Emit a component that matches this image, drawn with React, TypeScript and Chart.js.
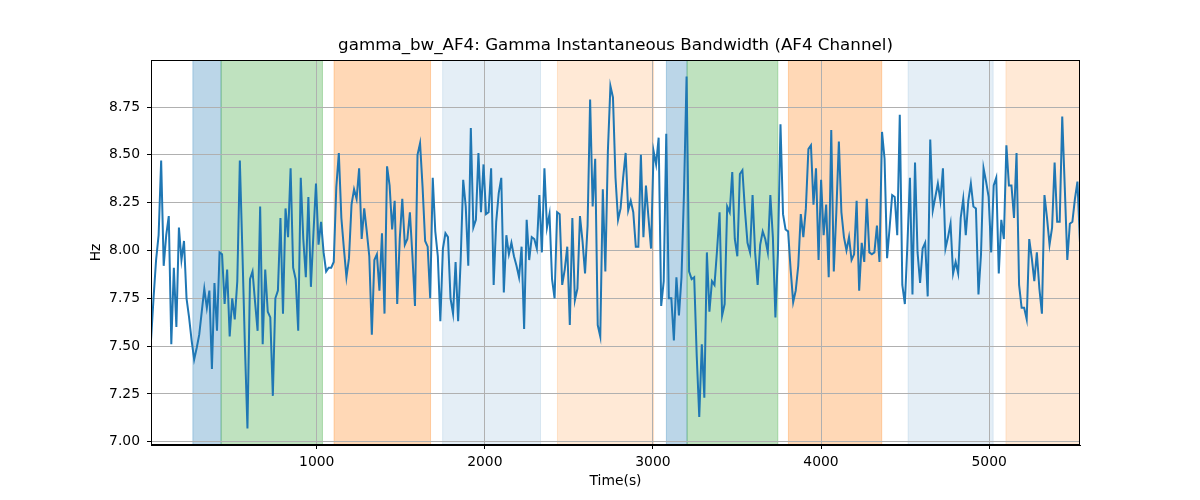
import { useEffect, useRef } from "react";
import Chart from "chart.js/auto";

// time axis (seconds)
const T_START = 14;
const T_STEP = 15.1;

// gamma bandwidth samples (Hz), read left to right
const bandwidthA = [
  7.53, 7.75, 7.95, 8.08, 8.47, 7.92, 8.08, 8.18, 7.51, 7.91,
  7.6, 8.12, 7.95, 8.05, 7.75, 7.65, 7.53, 7.43, 7.49, 7.56,
  7.68, 7.8, 7.7, 7.79, 7.38, 7.83, 7.58, 7.99, 7.98, 7.72,
  7.9, 7.55, 7.75, 7.64, 7.84, 8.47, 8.0, 7.5, 7.07, 7.85,
  7.89, 7.73, 7.58, 8.23, 7.51, 7.9, 7.68, 7.65, 7.24, 7.75,
  7.79, 8.17, 7.67, 8.22, 8.07, 8.43, 7.91, 7.85, 7.58, 8.38,
  8.06, 7.86, 8.28, 7.81, 8.09, 8.35, 8.03, 8.15, 7.99, 7.89,
  7.91, 7.91, 7.94, 8.33, 8.51, 8.17, 8.01, 7.86, 7.96, 8.24,
  8.32, 8.27, 8.43, 8.06, 8.22, 8.1, 7.97, 7.56, 7.95, 7.98,
  7.79,
];
const bandwidthB = [
  8.09, 7.67, 8.44, 8.34, 8.11, 8.26, 7.72, 8.06, 8.27, 8.03,
  8.06, 8.2, 7.97, 7.71, 8.5, 8.56, 8.33, 8.05, 8.02, 7.75,
  8.38, 8.1, 7.97, 7.63, 8.01, 8.09, 8.07, 7.75, 7.67, 7.94,
  7.63, 7.95, 8.37, 8.23, 7.92, 8.64, 8.12, 8.16, 8.51, 8.2,
  8.45, 8.19, 8.2, 8.43, 7.82, 8.15, 8.3, 8.38, 7.78, 8.08,
  7.98, 8.04, 7.97, 7.92, 7.86, 8.02, 7.59, 8.16, 7.95, 8.07,
  8.06, 8.01, 8.29, 7.99, 8.43, 8.12, 8.19, 7.85, 7.75, 8.2,
  8.19, 7.82, 7.9, 8.02, 7.61, 8.17, 7.74, 7.8, 8.18, 8.05,
  7.88, 8.13, 8.79, 8.23, 8.48, 7.61, 7.55,
];
const bandwidthC = [
  8.32, 7.89, 8.52, 8.86, 8.8, 8.38, 8.16, 8.22, 8.38, 8.51,
  8.21, 8.26, 8.2, 8.02, 8.02, 8.5, 8.07, 8.34, 8.17, 8.01,
  8.52, 8.45, 8.59, 7.71, 7.84, 8.61, 7.75, 7.75, 7.53, 7.86,
  7.66, 7.86, 8.31, 8.91, 7.89, 7.85, 7.86, 7.45, 7.13, 7.51,
  7.23, 7.99, 7.68, 7.84, 7.82, 8.0, 8.2, 7.66, 7.72, 8.23,
  8.2, 8.41, 8.06, 7.97, 8.4, 8.42, 8.21, 8.04, 7.99, 8.29,
  7.99, 7.82, 8.03, 8.1, 8.06, 7.99, 8.29, 8.07, 7.65, 7.99,
  8.66, 8.19, 8.11, 8.1, 7.9, 7.73, 7.79, 7.92, 8.19, 8.07,
  8.22, 8.53, 8.55, 8.24, 8.43, 7.95, 8.37, 8.08, 8.24, 7.86,
  8.63, 7.89, 8.2, 8.57,
];
const bandwidthD = [
  8.2, 8.07, 8.0, 8.07, 7.95, 7.98, 8.26, 7.79, 8.04, 7.94,
  8.27, 7.99, 7.98, 7.99, 8.13, 7.94, 8.62, 8.48, 7.96, 8.12,
  8.29, 8.28, 8.08, 8.71, 7.82, 7.72, 8.03, 8.38, 7.77, 8.46,
  7.99, 7.83, 8.01, 8.04, 7.76, 8.58, 8.21, 8.28, 8.35, 8.26,
  8.43, 8.01, 8.07, 8.14, 7.88, 7.94, 7.88, 8.17, 8.27, 8.08,
  8.26, 8.35, 8.23, 8.22, 7.77, 7.98, 8.43, 8.36, 8.28, 7.99,
  8.34, 8.38, 7.88, 8.16, 8.06, 8.55, 8.34, 8.34, 8.17, 8.51,
  7.82, 7.7, 7.7, 7.64, 8.06, 7.96, 7.84, 7.99, 7.8, 7.67,
  8.29, 8.17, 8.03, 8.12, 8.46, 8.15, 8.15, 8.7, 8.33, 7.95,
  8.14, 8.15, 8.27, 8.36, 8.04,
];
const bandwidth = [...bandwidthA, ...bandwidthB, ...bandwidthC, ...bandwidthD];

// shaded segments
const spanStarts = [263, 431, 1103, 1749, 2432, 3080, 3203, 3806, 4518, 5100];
const spanEnds = [431, 1034, 1677, 2331, 3004, 3203, 3743, 4361, 5024, 5600];
const spanColors = [
  "rgba(31,119,180,0.3)",
  "rgba(44,160,44,0.3)",
  "rgba(255,127,14,0.3)",
  "rgba(31,119,180,0.12)",
  "rgba(255,127,14,0.17)",
  "rgba(31,119,180,0.3)",
  "rgba(44,160,44,0.3)",
  "rgba(255,127,14,0.3)",
  "rgba(31,119,180,0.12)",
  "rgba(255,127,14,0.17)",
];

const xTicks = [1000, 2000, 3000, 4000, 5000];
const yTicks = [7.0, 7.25, 7.5, 7.75, 8.0, 8.25, 8.5, 8.75];

const TITLE = "gamma_bw_AF4: Gamma Instantaneous Bandwidth (AF4 Channel)";
const FONT = "'DejaVu Sans', sans-serif";

const spanPlugin = {
  id: "spans",
  beforeDraw(chart: any) {
    const { ctx, chartArea, scales } = chart;
    ctx.save();
    ctx.beginPath();
    ctx.rect(chartArea.left, chartArea.top, chartArea.right - chartArea.left, chartArea.bottom - chartArea.top);
    ctx.clip();
    spanStarts.forEach((s, i) => {
      const x0 = scales.x.getPixelForValue(s);
      const x1 = scales.x.getPixelForValue(spanEnds[i]);
      ctx.fillStyle = spanColors[i];
      ctx.strokeStyle = spanColors[i];
      ctx.lineWidth = 1;
      ctx.fillRect(x0, chartArea.top, x1 - x0, chartArea.bottom - chartArea.top);
      ctx.strokeRect(x0, chartArea.top, x1 - x0, chartArea.bottom - chartArea.top);
    });
    ctx.restore();
  },
  afterDatasetsDraw(chart: any) {
    const { ctx, chartArea } = chart;
    ctx.save();
    ctx.strokeStyle = "#000";
    ctx.lineWidth = 1;
    ctx.strokeRect(chartArea.left + 0.5, chartArea.top + 0.5, chartArea.right - chartArea.left - 1, chartArea.bottom - chartArea.top - 1);
    ctx.fillStyle = "#000";
    ctx.font = `16.7px ${FONT}`;
    ctx.textAlign = "center";
    ctx.textBaseline = "middle";
    ctx.fillText(TITLE, (chartArea.left + chartArea.right) / 2, 46);
    ctx.restore();
  },
};

export default function App() {
  const chartRef = useRef<HTMLCanvasElement>(null);
  const chartInstanceRef = useRef<Chart | null>(null);

  useEffect(() => {
    if (!chartRef.current) return;
    document.body.style.margin = "0";

    if (chartInstanceRef.current) {
      chartInstanceRef.current.destroy();
    }

    const points = bandwidth.map((v, i) => ({ x: T_START + i * T_STEP, y: v }));
    const tMax = T_START + (bandwidth.length - 1) * T_STEP;

    chartInstanceRef.current = new Chart(chartRef.current, {
      type: "line",
      data: {
        datasets: [
          {
            data: points,
            borderColor: "#1f77b4",
            borderWidth: 2,
            pointRadius: 0,
            tension: 0,
            fill: false,
          },
        ],
      },
      options: {
        responsive: true,
        maintainAspectRatio: false,
        animation: false,
        layout: { padding: { left: 0, right: 120, top: 60, bottom: 0 } },
        plugins: {
          legend: { display: false },
          tooltip: { enabled: false },
        },
        scales: {
          x: {
            type: "linear",
            min: T_START,
            max: tMax,
            afterBuildTicks: (scale: any) => {
              scale.ticks = xTicks.map((v) => ({ value: v }));
            },
            afterFit: (scale: any) => {
              scale.height = 55;
            },
            ticks: {
              color: "#000",
              padding: 5,
              maxRotation: 0,
              autoSkip: false,
              font: { family: FONT, size: 13.9 },
              callback: (v: any) => String(v),
            },
            grid: { color: "#b0b0b0", lineWidth: 1, tickColor: "#000", tickLength: 4 },
            border: { color: "#000", width: 1 },
            title: {
              display: true,
              text: "Time(s)",
              color: "#000",
              font: { family: FONT, size: 13.9 },
              padding: { top: 0, bottom: 10 },
            },
          },
          y: {
            min: 6.983,
            max: 8.996,
            afterBuildTicks: (scale: any) => {
              scale.ticks = yTicks.map((v) => ({ value: v }));
            },
            afterFit: (scale: any) => {
              scale.width = 151;
            },
            ticks: {
              color: "#000",
              padding: 7,
              autoSkip: false,
              font: { family: FONT, size: 13.9 },
              callback: (v: any) => Number(v).toFixed(2),
            },
            grid: { color: "#b0b0b0", lineWidth: 1, tickColor: "#000", tickLength: 4 },
            border: { color: "#000", width: 1 },
            title: {
              display: true,
              text: "Hz",
              color: "#000",
              font: { family: FONT, size: 13.9 },
              padding: { top: 88, bottom: 0 },
            },
          },
        },
      },
      plugins: [spanPlugin],
    });

    return () => {
      if (chartInstanceRef.current) {
        chartInstanceRef.current.destroy();
        chartInstanceRef.current = null;
      }
    };
  }, []);

  return (
    <div style={{ position: "relative", width: 1200, height: 500 }}>
      <canvas ref={chartRef} />
    </div>
  );
}
